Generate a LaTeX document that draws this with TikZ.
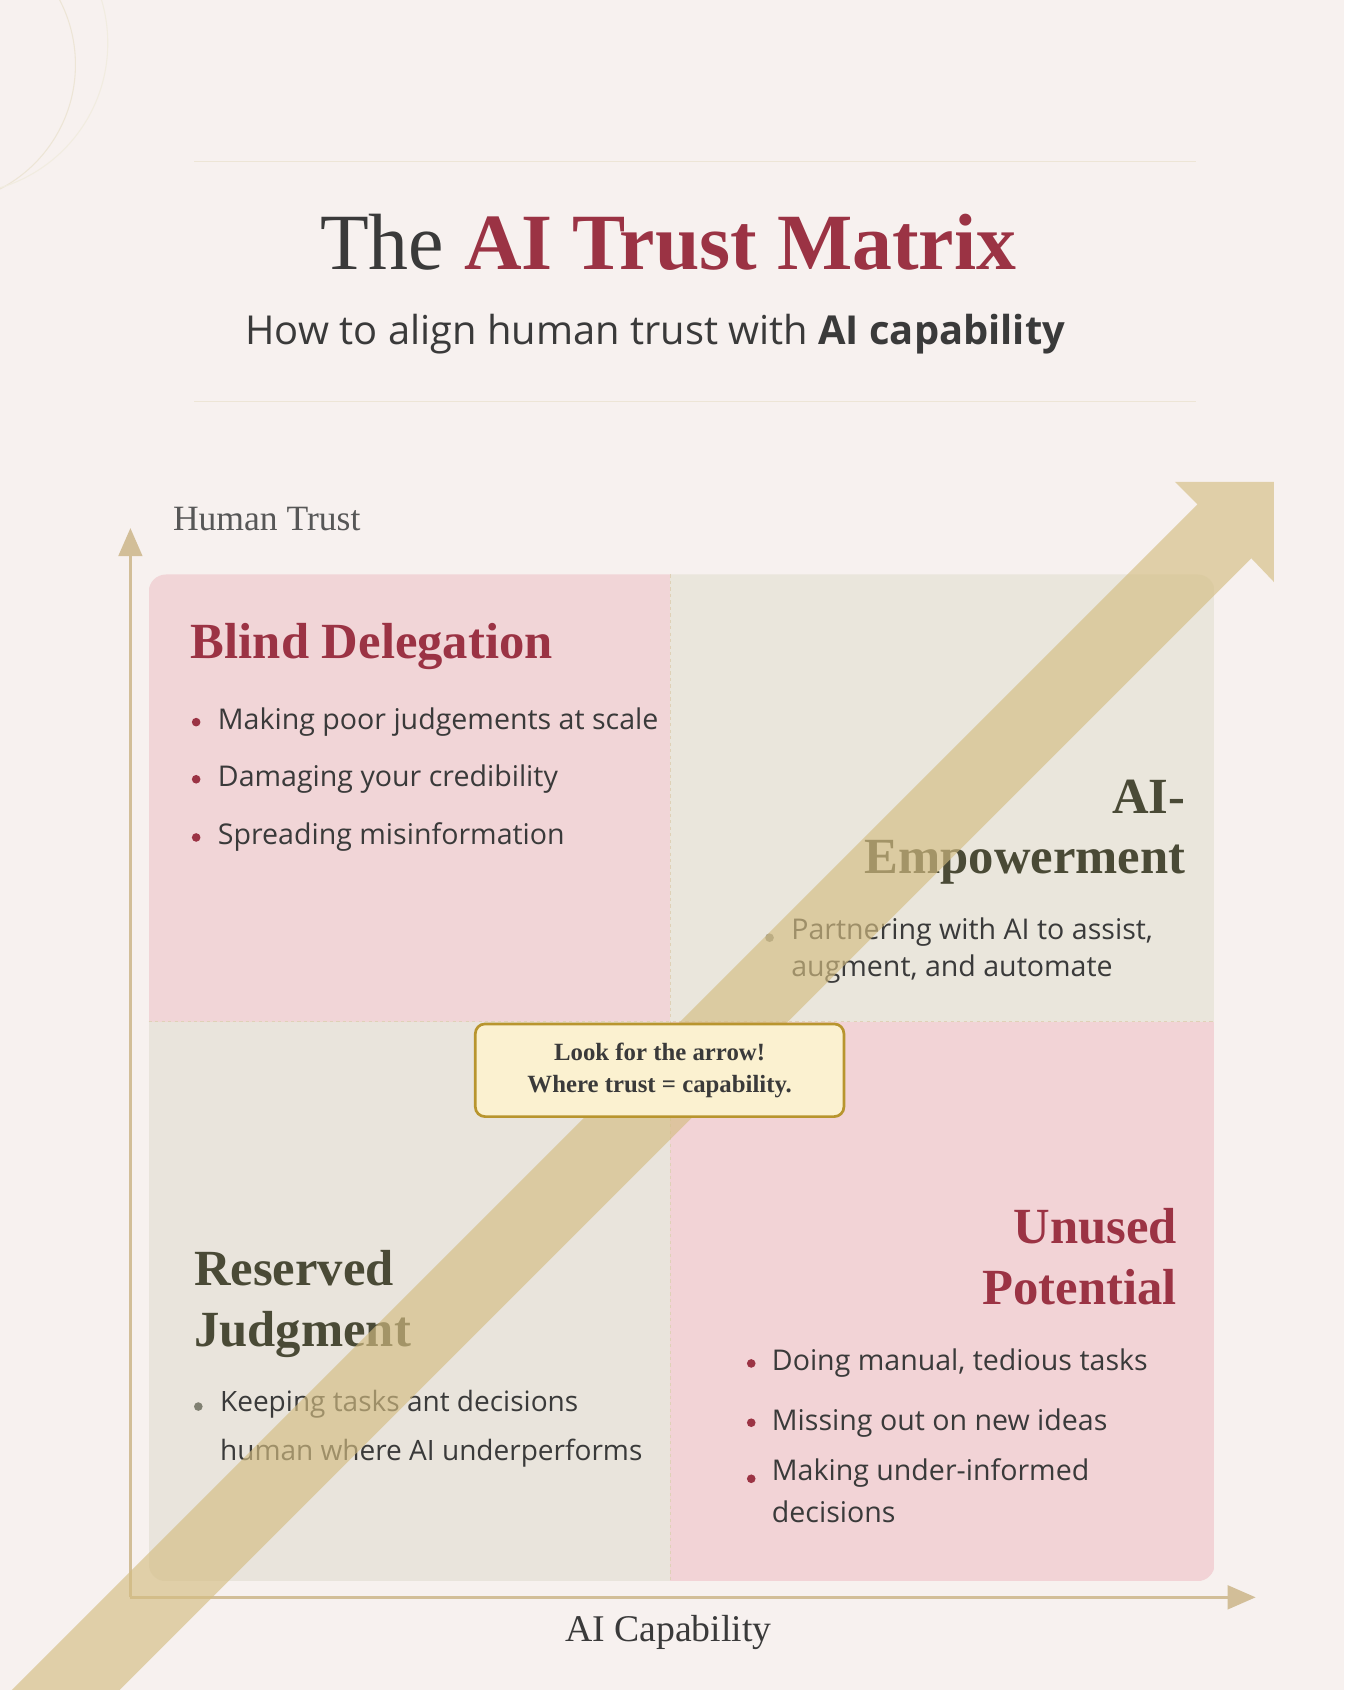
\documentclass[tikz,border=0pt]{standalone}
\usepackage{fontspec}
\setmainfont{Liberation Serif}
\setsansfont{Open Sans}
\usetikzlibrary{arrows.meta}
\definecolor{bg}{HTML}{F7F1EF}
\definecolor{crim}{HTML}{9B3344}
\definecolor{dgray}{HTML}{3A3A3A}
\definecolor{olive}{HTML}{4A4A36}
\definecolor{tan}{HTML}{D2BE98}
\definecolor{gold}{HTML}{D4BD82}
\definecolor{qtl}{HTML}{F1D5D7}
\definecolor{qtr}{HTML}{EAE6DC}
\definecolor{qbl}{HTML}{E9E4DC}
\definecolor{qbr}{HTML}{F2D3D6}
\definecolor{cborder}{HTML}{B8952E}
\definecolor{cfill}{HTML}{FBF1D0}
\tikzset{
  quad/.style={fill=#1,draw=none},
  divider/.style={draw=tan!70,dashed,line width=1pt},
  qtitle/.style={font=\fontsize{47}{56}\selectfont\bfseries,inner sep=0pt,align=left},
  btxt/.style={font=\sffamily\fontsize{26.5}{35}\selectfont,text=dgray,anchor=west,inner sep=0pt,align=left},
  bul/.style={circle,fill=#1,inner sep=0pt,minimum size=8pt},
}
\begin{document}
\begin{tikzpicture}[x=1pt,y=-1pt]
\fill[bg] (0,0) rectangle (1247,1568);
\useasboundingbox (0,0) rectangle (1247,1568);
\begin{scope}
\clip (0,0) rectangle (1247,1568);
\draw[tan!40,line width=1pt] (-60,60) circle (130);
\draw[tan!30,line width=1pt] (-40,40) circle (140);
\draw[tan!40,line width=0.8pt] (180,150) -- (1110,150);
\draw[tan!40,line width=0.8pt] (180,372) -- (1110,372);
\node[font=\fontsize{74}{80}\selectfont\bfseries] (title) at (620,225) {\textcolor{dgray}{\mdseries The} \textcolor{crim}{AI Trust Matrix}};
\node[font=\sffamily\fontsize{37}{42}\selectfont,text=dgray] (sub) at (608,310) {How to align human trust with \textbf{AI capability}};
\node[font=\fontsize{33}{36}\selectfont,text=dgray!85,anchor=west] (ht) at (157,482) {Human Trust};
\begin{scope}
\clip[rounded corners=16pt] (138,533) rectangle (1127,1467);
\fill[quad=qtl] (138,533) rectangle (622,948);
\fill[quad=qtr] (622,533) rectangle (1127,948);
\fill[quad=qbl] (138,948) rectangle (622,1467);
\fill[quad=qbr] (622,948) rectangle (1127,1467);
\end{scope}
\draw[divider] (622,533) -- (622,1467);
\draw[divider] (138,948) -- (1127,948);
\coordinate (o) at (121,1482);
\coordinate (ytop) at (121,490);
\coordinate (xend) at (1165,1482);
\draw[tan,line width=2.5pt,-{Triangle[length=26pt,width=22pt]}] (o) -- (ytop);
\draw[tan,line width=2.5pt,-{Triangle[length=26pt,width=22pt]}] (o) -- (xend);
\node[font=\fontsize{35}{38}\selectfont,text=dgray] (xl) at (620,1515) {AI Capability};
\node[qtitle,text=crim,anchor=west] (bd) at (177,600) {Blind Delegation};
\foreach \y/\t in {670/Making poor judgements at scale,723/Damaging your credibility,777/Spreading misinformation}{
  \node[bul=crim] at (182,\y) {};
  \node[btxt] at (202,\y) {\t};}
\node[qtitle,text=olive,anchor=east,align=right] (ae) at (1100,772) {AI-\\Empowerment};
\node[bul=olive!60] at (714,870) {};
\node[btxt,anchor=north west] at (734,851) {Partnering with AI to assist,\\augment, and automate};
\node[qtitle,text=olive,anchor=west] (rj) at (180,1210) {Reserved\\Judgment};
\node[bul=olive!70] at (184,1305) {};
\node[btxt,anchor=north west,font=\sffamily\fontsize{26}{45}\selectfont] at (204,1290) {Keeping tasks ant decisions\\human where AI underperforms};
\node[qtitle,text=crim,anchor=east,align=right] (up) at (1092,1166) {Unused\\Potential};
\foreach \y/\t in {1265/{Doing manual, tedious tasks},1320/Missing out on new ideas}{
  \node[bul=crim] at (697,\y) {};
  \node[btxt] at (716,\y) {\t};}
\node[bul=crim] at (697,1372) {};
\node[btxt,anchor=north west,font=\sffamily\fontsize{26.5}{39}\selectfont] at (716,1353) {Making under-informed\\decisions};
\fill[gold,opacity=0.65] (1182,447) -- (1090,447) -- (1111,468) -- (-65,1644) -- (-15,1694) -- (1161,518) -- (1182,540) -- cycle;
\node[draw=cborder,line width=2.5pt,fill=cfill,rounded corners=9pt,minimum width=342pt,minimum height=86pt,align=center,font=\fontsize{23}{30}\selectfont\bfseries,text=dgray] (call) at (612,993) {Look for the arrow!\\Where trust = capability.};
\end{scope}
\end{tikzpicture}
\end{document}
